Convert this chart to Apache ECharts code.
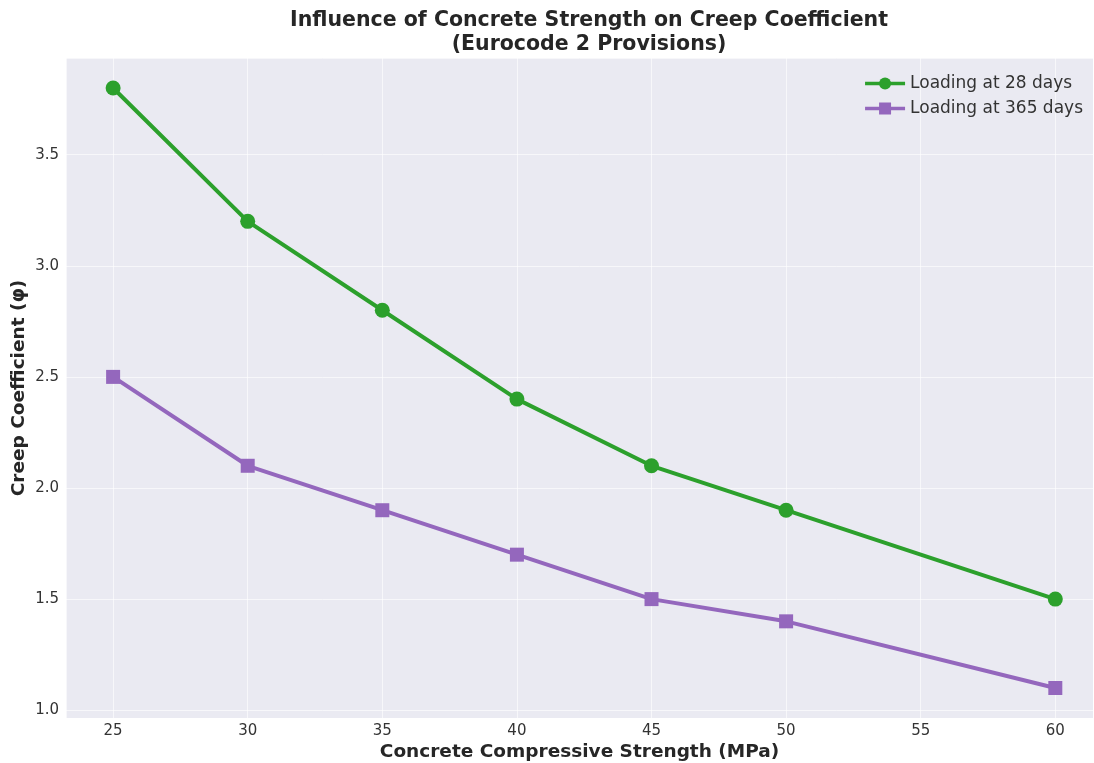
<!DOCTYPE html>
<html><head><meta charset="utf-8">
<script src="https://cdn.jsdelivr.net/npm/echarts@6/dist/echarts.min.js"></script>
<style>html,body{margin:0;padding:0;background:#fff}#c{width:1094px;height:763px}</style>
</head><body><div id="c"></div>
<script>
const strengths = [25, 30, 35, 40, 45, 50, 60];
const creep28 = [3.8, 3.2, 2.8, 2.4, 2.1, 1.9, 1.5];
const creep365 = [2.5, 2.1, 1.9, 1.7, 1.5, 1.4, 1.1];
const seriesNames = ['Loading at 28 days', 'Loading at 365 days'];
const titleLines = ['Influence of Concrete Strength on Creep Coefficient', '(Eurocode 2 Provisions)'];
const xTitle = 'Concrete Compressive Strength (MPa)';
const yTitle = 'Creep Coefficient (φ)';

const font = 'DejaVu Sans';
const chart = echarts.init(document.getElementById('c'), null, {renderer: 'canvas'});
const pairs = (xs, ys) => xs.map((x, i) => [x, ys[i]]);
chart.setOption({
  backgroundColor: '#ffffff',
  animation: false,
  title: {
    text: titleLines.join('\n'),
    left: 584, top: 4, textAlign: 'center',
    textStyle: {fontFamily: font, fontWeight: 'bold', fontSize: 20.5, color: '#262626', lineHeight: 24}
  },
  legend: {
    right: 6, top: 70, orient: 'vertical', itemGap: 8,
    itemWidth: 40, itemHeight: 15,
    lineStyle: {width: 3.5},
    textStyle: {fontFamily: font, fontSize: 17, color: '#333333'},
    data: seriesNames
  },
  grid: {left: 66, right: 1, top: 58, bottom: 45, show: true, backgroundColor: '#EAEAF2', borderWidth: 0,
    outerBoundsMode: 'none', containLabel: false},
  xAxis: {
    type: 'value', min: 23.25, max: 61.4, splitNumber: 8,
    name: xTitle, nameLocation: 'middle', nameGap: 25, nameMoveOverlap: false,
    nameTextStyle: {fontFamily: font, fontWeight: 'bold', fontSize: 18.5, color: '#262626'},
    axisLine: {show: false}, axisTick: {show: false},
    axisLabel: {fontFamily: font, fontSize: 15, color: '#333333', margin: 6, showMinLabel: false, showMaxLabel: false},
    splitLine: {show: true, lineStyle: {color: '#ffffff', width: 1, opacity: 0.6}}
  },
  yAxis: {
    type: 'value', min: 0.965, max: 3.935, splitNumber: 6,
    name: yTitle, nameLocation: 'middle', nameGap: 37, nameRotate: 90, nameMoveOverlap: false,
    nameTextStyle: {fontFamily: font, fontWeight: 'bold', fontSize: 18.5, color: '#262626'},
    axisLine: {show: false}, axisTick: {show: false},
    axisLabel: {fontFamily: font, fontSize: 15, color: '#333333', margin: 7, showMinLabel: false, showMaxLabel: false,
      formatter: v => v.toFixed(1)},
    splitLine: {show: true, lineStyle: {color: '#ffffff', width: 1, opacity: 0.6}}
  },
  series: [
    {name: seriesNames[0], type: 'line', data: pairs(strengths, creep28),
     symbol: 'circle', symbolSize: 15, color: '#2ca02c',
     lineStyle: {width: 4, color: '#2ca02c'}, itemStyle: {color: '#2ca02c'}},
    {name: seriesNames[1], type: 'line', data: pairs(strengths, creep365),
     symbol: 'rect', symbolSize: 14, color: '#9467bd',
     lineStyle: {width: 4, color: '#9467bd'}, itemStyle: {color: '#9467bd'}}
  ]
});
</script></body></html>
